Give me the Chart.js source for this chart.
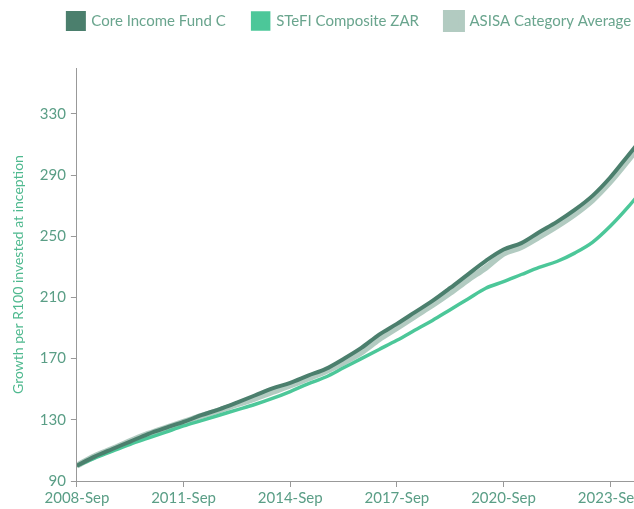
<!DOCTYPE html>
<html>
<head>
<meta charset="utf-8">
<script src="https://cdn.jsdelivr.net/npm/chart.js@4"></script>
<style>
  html, body { margin: 0; padding: 0; overflow: hidden; background: #fff; }
  #wrap { position: relative; width: 752px; height: 509px; }
</style>
</head>
<body>
<div id="wrap"><canvas id="growth"></canvas></div>
<script>
// months since 2008-Sep
var months = [0, 6, 12, 18, 24, 30, 36, 42, 48, 54, 60, 66, 72, 78, 84, 90, 96,
  102, 108, 114, 120, 126, 132, 138, 144, 150, 156, 162, 168, 174, 180, 186, 192];

var coreIncome = [100, 105.9, 110.9, 115.8, 120.7, 124.8, 128.6, 133, 136.9, 141.3, 145.9,
  150.6, 154.2, 158.9, 163.3, 169.8, 177, 185.7, 192.7, 200.2, 207.7, 216.2, 225.1,
  233.9, 241.3, 245.5, 252.6, 259.4, 267.2, 276.4, 288.4, 302.7, 317];

var stefi = [100, 105, 109.5, 114, 118, 122, 126, 129.5, 133, 136.5, 140, 144, 148.5,
  153.5, 158, 164, 170, 176, 182, 188.5, 195, 202, 209, 216, 220.3, 225, 229.6, 233.5,
  239, 246, 256.5, 269, 283];

var asisa = [100, 106.2, 111, 116.2, 120.8, 124.8, 128.6, 132.6, 136.2, 140, 143.8,
  148.2, 152.4, 157, 161.8, 167.4, 174, 182.6, 190, 197.6, 205, 213, 221.6, 229.4,
  238.6, 243, 249.6, 256.6, 264.4, 273.6, 285.6, 299.6, 314];

var seriesNames = ["Core Income Fund C", "STeFI Composite ZAR", "ASISA Category Average"];
var yTicks = [90, 130, 170, 210, 250, 290, 330];
var xTicks = [0, 36, 72, 108, 144, 180];
var xTickLabels = ["2008-Sep", "2011-Sep", "2014-Sep", "2017-Sep", "2020-Sep", "2023-Sep"];

function pts(vals) {
  return vals.map(function (v, i) { return { x: months[i], y: v }; });
}

var tickColor = "#5a9e86";

// extra space under the legend
var legendGap = {
  id: "legendGap",
  beforeInit: function (chart) {
    var fit = chart.legend.fit;
    chart.legend.fit = function () {
      fit.bind(chart.legend)();
      this.height += 29;
    };
  }
};

new Chart(document.getElementById("growth"), {
  type: "line",
  data: {
    datasets: [{
      label: seriesNames[0],
      data: pts(coreIncome),
      borderColor: "#4b7f6d",
      backgroundColor: "#4b7f6d",
      borderWidth: 4
    }, {
      label: seriesNames[1],
      data: pts(stefi),
      borderColor: "#4cc799",
      backgroundColor: "#4cc799",
      borderWidth: 3.5
    }, {
      label: seriesNames[2],
      data: pts(asisa),
      borderColor: "#b2cbc1",
      backgroundColor: "#b2cbc1",
      borderWidth: 6
    }]
  },
  plugins: [legendGap],
  options: {
    responsive: true,
    maintainAspectRatio: false,
    animation: false,
    layout: { padding: { left: 10, right: 63, top: -14, bottom: 0 } },
    elements: {
      point: { radius: 0 },
      line: { cubicInterpolationMode: "monotone" }
    },
    plugins: {
      tooltip: { enabled: false },
      legend: {
        position: "top",
        labels: {
          boxWidth: 16,
          boxHeight: 16,
          padding: 27,
          color: "#6aa58e",
          font: { family: "Lato, 'Liberation Sans', sans-serif", size: 15 }
        }
      }
    },
    scales: {
      x: {
        type: "linear",
        min: 0,
        max: 206.6,
        afterBuildTicks: function (scale) {
          scale.ticks = xTicks.map(function (v) { return { value: v }; });
        },
        ticks: {
          color: tickColor,
          autoSkip: false,
          maxRotation: 0,
          padding: 2,
          font: { family: "Lato, 'Liberation Sans', sans-serif", size: 15 },
          callback: function (v) { return xTickLabels[xTicks.indexOf(v)]; }
        },
        grid: { drawOnChartArea: false, color: "#999", tickLength: 6 },
        border: { color: "#999" }
      },
      y: {
        min: 90,
        max: 360,
        afterBuildTicks: function (scale) {
          scale.ticks = yTicks.map(function (v) { return { value: v }; });
        },
        ticks: {
          color: tickColor,
          padding: 5,
          font: { family: "Lato, 'Liberation Sans', sans-serif", size: 15 }
        },
        grid: { drawOnChartArea: false, color: "#999", tickLength: 6 },
        border: { color: "#999" },
        title: {
          display: true,
          text: "Growth per R100 invested at inception",
          color: "#4fb98f",
          padding: { top: 0, bottom: 8 },
          font: { family: "Lato, 'Liberation Sans', sans-serif", size: 14 }
        }
      }
    }
  }
});
</script>
</body>
</html>
